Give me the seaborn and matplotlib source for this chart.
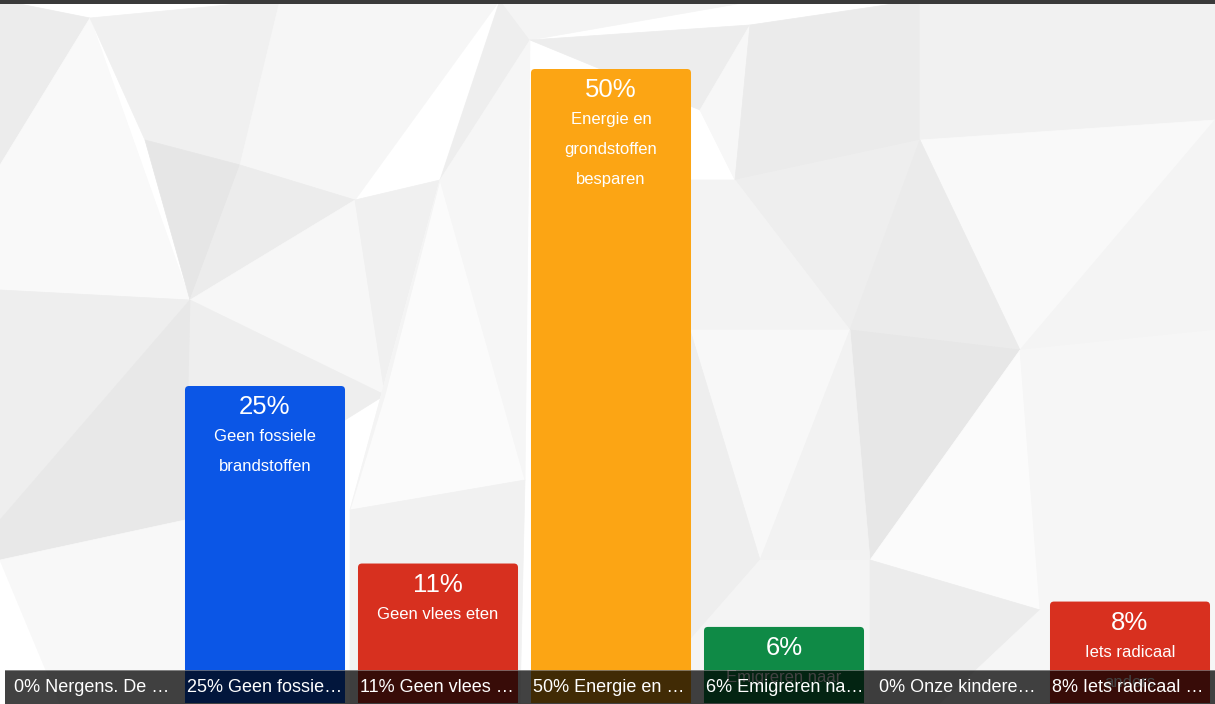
#%%
# Imports
import matplotlib.pyplot as plt
import seaborn as sns
from matplotlib.patches import Polygon, Rectangle, FancyBboxPatch
from matplotlib import transforms
from matplotlib.colors import to_rgb

#%%
# Data
categories = ['Nergens', 'Geen fossiele brandstoffen', 'Geen vlees eten',
              'Energie en grondstoffen besparen', 'Emigreren naar',
              'Onze kinderen', 'Iets radicaal anders']
percentages = [0, 25, 11, 50, 6, 0, 8]
bar_texts = ['', 'Geen fossiele\nbrandstoffen', 'Geen vlees eten',
             'Energie en\ngrondstoffen\nbesparen', 'Emigreren naar',
             '', 'Iets radicaal\nanders']
bottom_labels = ['0% Nergens. De …', '25% Geen fossie…', '11% Geen vlees …',
                 '50% Energie en …', '6% Emigreren na…', '0% Onze kindere…',
                 '8% Iets radicaal …']
bar_colors = ['#9a9a9a', '#0b56e6', '#d7301f', '#fca514', '#0f8a46',
              '#9a9a9a', '#d8301f']

# Low-poly background (pixel coordinates, decoration only)
bg_shapes = [
    ([(0, 0), (90, 18), (0, 165)], '#e4e4e4'),
    ([(90, 18), (0, 165), (0, 290), (190, 300)], '#fdfdfd'),
    ([(90, 18), (280, 0), (240, 165), (145, 140)], '#ececec'),
    ([(145, 140), (240, 165), (190, 300)], '#dadada'),
    ([(0, 290), (190, 300), (0, 520)], '#e9e9e9'),
    ([(280, 0), (500, 0), (355, 200), (240, 165)], '#f6f6f6'),
    ([(240, 165), (355, 200), (190, 300)], '#e4e4e4'),
    ([(190, 300), (355, 200), (385, 395)], '#f8f8f8'),
    ([(190, 300), (385, 395), (185, 520)], '#e8e8e8'),
    ([(0, 520), (190, 300), (185, 520), (0, 560)], '#dedede'),
    ([(0, 560), (185, 520), (185, 704), (60, 704)], '#fbfbfb'),
    ([(355, 200), (440, 180), (385, 395)], '#ececec'),
    ([(440, 180), (350, 510), (525, 480)], '#ffffff'),
    ([(500, 0), (530, 40), (440, 180)], '#e8e8e8'),
    ([(500, 0), (760, 0), (530, 40)], '#f4f4f4'),
    ([(530, 40), (750, 25), (700, 110)], '#e6e6e6'),
    ([(350, 510), (525, 480), (520, 704), (350, 704)], '#eeeeee'),
    ([(385, 395), (350, 510), (440, 180)], '#f3f3f3'),
    ([(440, 180), (530, 40), (525, 480)], '#f7f7f7'),
    ([(700, 110), (750, 25), (735, 180)], '#f8f8f8'),
    ([(750, 25), (920, 0), (920, 140), (735, 180)], '#e3e3e3'),
    ([(920, 0), (1215, 0), (1215, 120), (920, 140)], '#eeeeee'),
    ([(735, 180), (920, 140), (850, 330)], '#e8e8e8'),
    ([(920, 140), (1215, 120), (1020, 350)], '#fcfcfc'),
    ([(1215, 120), (1215, 330), (1020, 350)], '#f4f4f4'),
    ([(920, 140), (1020, 350), (850, 330)], '#e2e2e2'),
    ([(850, 330), (1020, 350), (870, 560)], '#dcdcdc'),
    ([(870, 560), (1020, 350), (1040, 610)], '#ffffff'),
    ([(1020, 350), (1215, 330), (1215, 600), (1040, 610)], '#f7f7f7'),
    ([(690, 180), (735, 180), (850, 330), (690, 330)], '#f1f1f1'),
    ([(690, 330), (850, 330), (760, 560)], '#fbfbfb'),
    ([(690, 330), (760, 560), (690, 640)], '#e9e9e9'),
    ([(760, 560), (850, 330), (870, 560)], '#efefef'),
    ([(690, 640), (760, 560), (870, 560), (870, 704), (690, 704)], '#f3f3f3'),
    ([(870, 560), (1040, 610), (940, 704), (870, 704)], '#e4e4e4'),
    ([(940, 704), (1040, 610), (1215, 600), (1215, 704)], '#f7f7f7'),
]


def soften(col, k=0.45, base='#f5f5f5'):
    # pull the facet shades towards a light base so the pattern stays subtle
    c, b = to_rgb(col), to_rgb(base)
    return tuple(ci * (1 - k) + bi * k for ci, bi in zip(c, b))


#%%
sns.set_theme(style='white')
plt.rcParams['font.family'] = ['Liberation Sans', 'DejaVu Sans']

W, H = 1215, 704
fig = plt.figure(figsize=(12.15, 7.04), dpi=100)

# background layer
bg = fig.add_axes([0, 0, 1, 1], zorder=-1)
bg.set_xlim(0, W)
bg.set_ylim(H, 0)
bg.set_facecolor('#f0f0f0')
for pts, col in bg_shapes:
    c = soften(col)
    bg.add_patch(Polygon(pts, closed=True, facecolor=c, edgecolor=c, lw=0.5))
bg.axis('off')

# bar axes: slot width 173 px, baseline ~1 px above bottom
ax = fig.add_axes([5.5 / W, 1 / H, 1211 / W, 698 / H])
ax.patch.set_alpha(0)
sns.barplot(x=categories, y=percentages, hue=categories, order=categories,
            hue_order=categories, palette=bar_colors, width=0.925,
            legend=False, saturation=1, ax=ax)
ax.set_xlim(-0.5, 6.5)
ax.set_ylim(0, 50 * 698 / 634)
ax.axis('off')

# rounded top corners
px_x = 1211 / 7.0
px_y = 634 / 50.0
for p in list(ax.patches):
    x0, y0 = p.get_x(), p.get_y()
    w, h = p.get_width(), p.get_height()
    if h <= 0:
        p.remove()
        continue
    fb = FancyBboxPatch((x0, y0 - 1), w, h + 1,
                        boxstyle='round,pad=0,rounding_size=%f' % (4 / px_x),
                        mutation_aspect=px_x / px_y,
                        facecolor=p.get_facecolor(), edgecolor='none')
    p.remove()
    ax.add_patch(fb)

# text inside the bars
to_pts = transforms.offset_copy
for i, (v, txt) in enumerate(zip(percentages, bar_texts)):
    if v <= 0:
        continue
    t = to_pts(ax.transData, fig=fig, x=0, y=-21 * 72 / 100, units='points')
    ax.text(i, v, f'{v}%', transform=t, ha='center', va='center',
            color='white', fontsize=18.5, zorder=3)
    for j, line in enumerate(txt.split('\n')):
        t2 = to_pts(ax.transData, fig=fig, x=0,
                    y=-(51 + 30 * j) * 72 / 100, units='points')
        ax.text(i, v, line, transform=t2, ha='center', va='center',
                color='white', fontsize=12, zorder=3)

# dark label strip at the bottom
fig.add_artist(Rectangle((5 / W, 0), 1210 / W, 34 / H, transform=fig.transFigure,
                         facecolor='black', alpha=0.74, edgecolor='none', zorder=5))
fig.add_artist(Rectangle((5 / W, 33.5 / H), 1210 / W, 1 / H, transform=fig.transFigure,
                         facecolor='white', alpha=0.35, edgecolor='none', zorder=5))
blend = transforms.blended_transform_factory(ax.transData, fig.transFigure)
for i, lab in enumerate(bottom_labels):
    fig.text(i - 0.4625 + 2 / px_x, 17 / H, lab, transform=blend,
             ha='left', va='center', color='white', fontsize=13, zorder=6)

# top dark strip
fig.add_artist(Rectangle((0, 1 - 4 / H), 1, 4 / H, transform=fig.transFigure,
                         facecolor='#3a3a3a', edgecolor='none', zorder=5))

plt.savefig('out.png', dpi=100)
